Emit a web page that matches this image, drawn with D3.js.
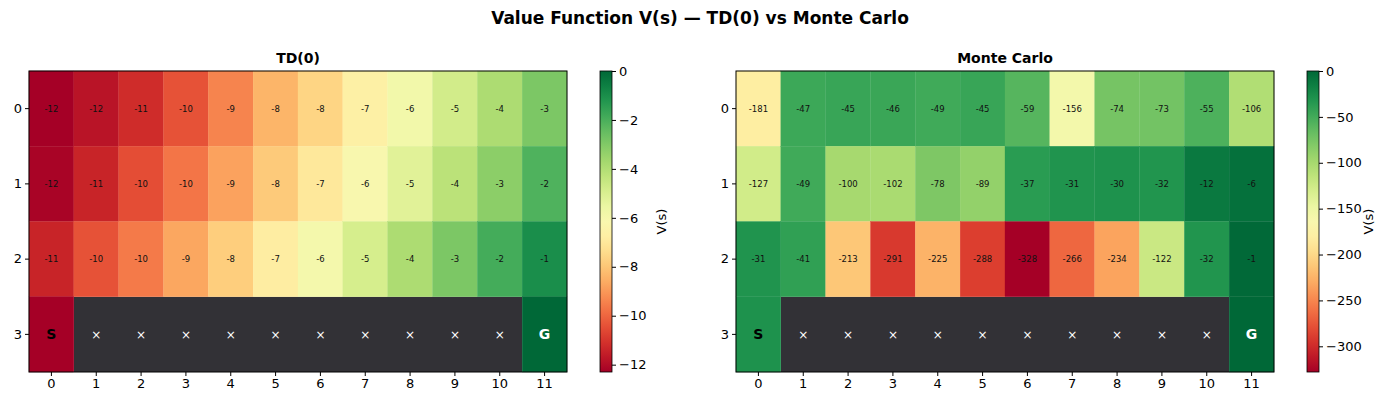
<!DOCTYPE html>
<html lang="en">
<head>
<meta charset="UTF-8">
<script src="https://d3js.org/d3.v7.min.js"></script>
<style>
  body { margin: 0; background: #fff; }
  text { font-family: "DejaVu Sans", sans-serif; }
</style>
</head>
<body>
<svg id="chart" width="1400" height="406"></svg>
<script>
var rows = [0, 1, 2, 3];
var cols = [0, 1, 2, 3, 4, 5, 6, 7, 8, 9, 10, 11];
// row 3: start, cliff (null), goal
var tdValues = [
  [-12.3, -11.8, -11.2, -10.4, -9.4, -8.4, -7.6, -6.7, -5.8, -4.8, -3.9, -2.9],
  [-12.2, -11.4, -10.5, -9.7, -8.8, -7.9, -7.0, -6.1, -5.2, -4.2, -3.2, -2.1],
  [-11.4, -10.4, -9.6, -8.7, -7.8, -6.8, -5.9, -4.9, -3.9, -2.9, -1.9, -1.0],
  [-12.3, null, null, null, null, null, null, null, null, null, null, 0]
];
var mcValues = [
  [-181, -47, -45, -46, -49, -45, -59, -156, -74, -73, -55, -106],
  [-127, -49, -100, -102, -78, -89, -37, -31, -30, -32, -12, -6],
  [-31, -41, -213, -291, -225, -288, -328, -266, -234, -122, -32, -1],
  [-30, null, null, null, null, null, null, null, null, null, null, 0]
];
var tdTicks = [0, -2, -4, -6, -8, -10, -12];
var mcTicks = [0, -50, -100, -150, -200, -250, -300];

var svg = d3.select("#chart");
svg.append("text").attr("x", 700).attr("y", 24).attr("text-anchor", "middle")
  .attr("font-size", "17px").attr("font-weight", "bold")
  .text("Value Function V(s) \u2014 TD(0) vs Monte Carlo");

function panel(x0, title, values, ticks, vmin) {
  var top = 71, bottom = 372, right = x0 + 538;
  var xS = d3.scaleBand().domain(cols).range([x0, right]);
  var yS = d3.scaleBand().domain(rows).range([top, bottom]);
  var color = d3.scaleSequential(d3.interpolateRdYlGn).domain([vmin, 0]);
  var g = svg.append("g");
  g.append("text").attr("x", (x0 + right) / 2).attr("y", 63).attr("text-anchor", "middle")
    .attr("font-size", "14px").attr("font-weight", "bold").text(title);
  // cliff background as one block so no seams appear
  g.append("rect").attr("x", xS(1)).attr("y", yS(3))
    .attr("width", xS(11) - xS(1)).attr("height", yS.bandwidth()).attr("fill", "#323136");
  rows.forEach(function(r) {
    cols.forEach(function(c) {
      var v = values[r][c];
      if (v !== null) {
        g.append("rect").attr("x", xS(c)).attr("y", yS(r))
          .attr("width", xS.bandwidth()).attr("height", yS.bandwidth())
          .attr("fill", color(v)).attr("stroke", color(v)).attr("stroke-width", 0.3);
      }
      var cx = xS(c) + xS.bandwidth() / 2, cy = yS(r) + yS.bandwidth() / 2;
      var t = g.append("text").attr("x", cx).attr("y", cy).attr("dy", "0.35em")
        .attr("text-anchor", "middle");
      if (r === 3) {
        if (v === null) t.attr("fill", "#fff").attr("font-size", "12px").text("\u00d7");
        else if (c === 0) t.attr("font-size", "14px").attr("font-weight", "bold").attr("fill", "#000").text("S");
        else t.attr("font-size", "14px").attr("font-weight", "bold").attr("fill", "#fff").text("G");
      } else {
        t.attr("font-size", "8.5px").attr("fill", "#111").text(Math.round(v));
      }
    });
  });
  g.append("rect").attr("x", x0).attr("y", top).attr("width", right - x0).attr("height", bottom - top)
    .attr("fill", "none").attr("stroke", "#000").attr("stroke-width", 1);
  var xa = g.append("g").attr("transform", "translate(0," + bottom + ")").call(d3.axisBottom(xS).tickSizeOuter(0).tickSize(4));
  var ya = g.append("g").attr("transform", "translate(" + x0 + ",0)").call(d3.axisLeft(yS).tickSizeOuter(0).tickSize(4));
  [xa, ya].forEach(function(a) {
    a.select(".domain").remove();
    a.selectAll("text").attr("font-size", "13px").attr("font-family", "DejaVu Sans");
  });

  // colorbar
  var cbx = x0 + 571, cbw = 12;
  var cy = d3.scaleLinear().domain([vmin, 0]).range([bottom, top]);
  var gid = "grad" + x0;
  var grad = svg.append("defs").append("linearGradient").attr("id", gid)
    .attr("x1", 0).attr("y1", 1).attr("x2", 0).attr("y2", 0);
  d3.range(0, 1.01, 0.05).forEach(function(f) {
    grad.append("stop").attr("offset", f).attr("stop-color", d3.interpolateRdYlGn(f));
  });
  g.append("rect").attr("x", cbx).attr("y", top).attr("width", cbw).attr("height", bottom - top)
    .attr("fill", "url(#" + gid + ")").attr("stroke", "#000").attr("stroke-width", 0.8);
  var ca = g.append("g").attr("transform", "translate(" + (cbx + cbw) + ",0)")
    .call(d3.axisRight(cy).tickSize(4).tickValues(ticks).tickFormat(function(d) { return d === 0 ? "0" : "\u2212" + Math.abs(d); }));
  ca.select(".domain").remove();
  ca.selectAll("text").attr("font-size", "13px").attr("font-family", "DejaVu Sans");
  g.append("text").attr("transform", "translate(" + (cbx + 66) + "," + ((top + bottom) / 2) + ") rotate(-90)")
    .attr("text-anchor", "middle").attr("font-size", "13px").text("V(s)");
}

panel(29, "TD(0)", tdValues, tdTicks, -12.3);
panel(736, "Monte Carlo", mcValues, mcTicks, -328);
</script>
</body>
</html>
